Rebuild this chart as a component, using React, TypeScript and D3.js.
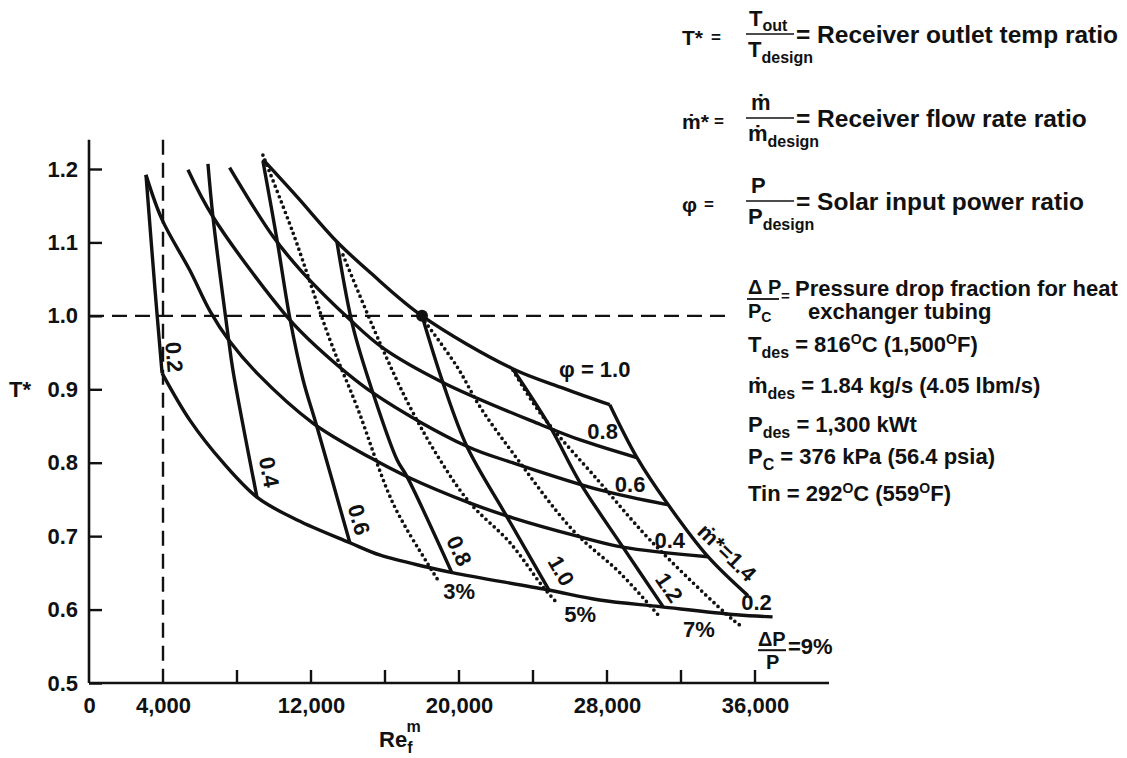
import React, { useEffect, useRef } from "react";
import * as d3 from "d3";

type Pt = [number, number];

// axis ticks
const yTicks = [0.5, 0.6, 0.7, 0.8, 0.9, 1.0, 1.1, 1.2];
const xTickMarks = [8000, 12000, 16000, 20000, 24000, 28000, 32000, 36000];
const xTickLabels = [0, 4000, 12000, 20000, 28000, 36000];

// phi = P / P_design, constant solar input power  [Re_f^m, T*]
const phi02: Pt[] = [[3950, 0.922], [5450, 0.858], [7250, 0.8], [9130, 0.752], [11250, 0.722], [14100, 0.691], [15750, 0.674], [18250, 0.658], [19700, 0.65], [24750, 0.627], [27600, 0.613], [30850, 0.604], [35000, 0.593], [36950, 0.59]];
const phi04: Pt[] = [[3080, 1.192], [3950, 1.131], [5450, 1.062], [6550, 1.006], [7550, 0.967], [9080, 0.922], [12100, 0.854], [15200, 0.807], [17200, 0.781], [20600, 0.745], [22900, 0.725], [26550, 0.699], [28850, 0.685], [33450, 0.672]];
const phi06: Pt[] = [[5350, 1.199], [6700, 1.135], [10700, 0.999], [12300, 0.958], [15350, 0.895], [20450, 0.822], [22900, 0.8], [27600, 0.763], [31250, 0.743]];
const phi08: Pt[] = [[7600, 1.202], [9950, 1.108], [11550, 1.059], [14100, 0.995], [15900, 0.956], [19150, 0.909], [24400, 0.852], [26550, 0.831], [29600, 0.807]];
const phi10: Pt[] = [[9400, 1.213], [11250, 1.162], [13400, 1.101], [15200, 1.059], [18000, 1.0], [22900, 0.928], [25700, 0.901], [28150, 0.879]];

// m* = mdot / mdot_design, constant flow rate
const m02: Pt[] = [[3080, 1.192], [3570, 1.035], [3950, 0.922]];
const m04: Pt[] = [[6430, 1.207], [6700, 1.135], [7550, 0.967], [7780, 0.926], [9080, 0.753]];
const m06: Pt[] = [[9400, 1.211], [10160, 1.104], [10870, 0.995], [11570, 0.913], [12320, 0.849], [14100, 0.691]];
const m08: Pt[] = [[13400, 1.101], [14270, 0.985], [15350, 0.895], [16650, 0.804], [17190, 0.781], [19620, 0.65]];
const m10: Pt[] = [[18000, 1.0], [19130, 0.909], [20430, 0.822], [22600, 0.726], [24920, 0.624]];
const m12: Pt[] = [[22900, 0.928], [24920, 0.849], [26540, 0.773], [28860, 0.685], [31030, 0.604]];
const m14: Pt[] = [[28150, 0.879], [29620, 0.807], [31300, 0.743], [33460, 0.672], [35620, 0.619]];

// dP/P, tubing pressure drop (dotted)
const dp3: Pt[] = [[9400, 1.219], [11030, 1.113], [13030, 0.967], [14490, 0.876], [16430, 0.745], [18270, 0.664], [18870, 0.64]];
const dp5: Pt[] = [[13730, 1.083], [15730, 0.963], [17350, 0.876], [18970, 0.804], [20600, 0.745], [22760, 0.691], [24540, 0.631], [25300, 0.609]];
const dp7: Pt[] = [[18160, 0.992], [19890, 0.931], [21140, 0.876], [22920, 0.813], [26160, 0.708], [28700, 0.65], [30860, 0.59]];
const dp9: Pt[] = [[22920, 0.926], [24380, 0.868], [27620, 0.773], [30320, 0.695], [34810, 0.586], [35350, 0.576]];

const phiCurves = [phi02, phi04, phi06, phi08, phi10];
const phiNames = ["0.2", "0.4", "0.6", "0.8", "\u03c6 = 1.0"];
const mCurves = [m02, m04, m06, m08, m10, m12, m14];
const mNames = ["0.2", "0.4", "0.6", "0.8", "1.0", "1.2", "\u1e41*=1.4"];
const dpCurves = [dp3, dp5, dp7, dp9];
const dpNames = ["3%", "5%", "7%"];

const designPoint: Pt = [18000, 1.0];
const refRe = 4000;
const refT = 1.0;

const FONT = "'Liberation Sans', Arial, Helvetica, sans-serif";
const INK = "#111";

// label offsets in px from the low end of each curve
const phiLabelOff = [[-16, -14], [-38, -16], [-37, -20], [-34, -26], [-15, -35]];
const mLabelOff = [[12, -16], [12, -25], [9, -23], [7, -22], [11, -21], [6, -19], [-21, -43]];
const dpLabelOff = [[21, 11], [23, 12], [39, 13]];

export default function App() {
  const gRef = useRef<SVGGElement>(null);

  useEffect(() => {
    const g = d3.select(gRef.current);
    g.selectAll("*").remove();

    const x = d3.scaleLinear().domain([0, 36000]).range([89, 755]);
    const y = d3.scaleLinear().domain([0.5, 1.2]).range([683, 169]);

    const line = d3.line<Pt>()
      .x(d => x(d[0]))
      .y(d => y(d[1]))
      .curve(d3.curveCatmullRom.alpha(0.5));

    // axes
    g.append("line")
      .attr("x1", x(0)).attr("x2", x(0))
      .attr("y1", y(0.5)).attr("y2", y(1.24))
      .attr("stroke", INK).attr("stroke-width", 2.6);
    g.append("line")
      .attr("x1", x(0)).attr("x2", x(40000))
      .attr("y1", y(0.5)).attr("y2", y(0.5))
      .attr("stroke", INK).attr("stroke-width", 2.6);

    const yAxis = g.append("g")
      .attr("transform", `translate(${x(0)},0)`)
      .call(d3.axisLeft(y).tickValues(yTicks).tickSizeInner(-13).tickSizeOuter(0).tickPadding(11).tickFormat(d3.format(".1f")));
    yAxis.select(".domain").remove();
    yAxis.selectAll("line").attr("stroke", INK).attr("stroke-width", 2.4);

    const xAxis = g.append("g")
      .attr("transform", `translate(0,${y(0.5)})`)
      .call(d3.axisBottom(x).tickValues(xTickLabels).tickSize(0).tickPadding(14).tickFormat(d3.format(",")));
    xAxis.select(".domain").remove();

    g.selectAll(".xtick")
      .data(xTickMarks)
      .join("line")
      .attr("x1", d => x(d)).attr("x2", d => x(d))
      .attr("y1", y(0.5)).attr("y2", y(0.5) - 13)
      .attr("stroke", INK).attr("stroke-width", 2.4);

    [yAxis, xAxis].forEach(a => a
      .attr("font-family", FONT)
      .attr("font-size", 22)
      .attr("font-weight", "bold")
      .selectAll("text").attr("fill", INK));

    // reference dashed lines
    g.append("line")
      .attr("x1", x(refRe)).attr("x2", x(refRe))
      .attr("y1", y(1.24)).attr("y2", y(0.5))
      .attr("stroke", INK).attr("stroke-width", 2.4)
      .attr("stroke-dasharray", "15 8");
    g.append("line")
      .attr("x1", x(0)).attr("x2", x(34700))
      .attr("y1", y(refT)).attr("y2", y(refT))
      .attr("stroke", INK).attr("stroke-width", 2.4)
      .attr("stroke-dasharray", "15 8");

    // dotted pressure-drop curves
    g.selectAll(".dp")
      .data(dpCurves)
      .join("path")
      .attr("d", d => line(d))
      .attr("fill", "none")
      .attr("stroke", INK)
      .attr("stroke-width", 3.7)
      .attr("stroke-linecap", "round")
      .attr("stroke-dasharray", "0 5.6");

    // solid grid of phi and m* curves
    g.selectAll(".solid")
      .data([...phiCurves, ...mCurves])
      .join("path")
      .attr("d", d => line(d))
      .attr("fill", "none")
      .attr("stroke", INK)
      .attr("stroke-width", 3.4)
      .attr("stroke-linejoin", "round");

    g.append("circle")
      .attr("cx", x(designPoint[0])).attr("cy", y(designPoint[1]))
      .attr("r", 6).attr("fill", INK);

    const lbl = g.append("g")
      .attr("font-family", FONT)
      .attr("font-size", 22)
      .attr("font-weight", "bold")
      .attr("fill", INK);

    // phi labels at right ends
    phiCurves.forEach((c, i) => {
      const e = c[c.length - 1];
      lbl.append("text")
        .attr("x", x(e[0]) + phiLabelOff[i][0])
        .attr("y", y(e[1]) + phiLabelOff[i][1])
        .attr("text-anchor", "middle")
        .attr("dominant-baseline", "central")
        .text(phiNames[i]);
    });

    // m* labels, rotated along each line
    mCurves.forEach((c, i) => {
      const e = c[c.length - 1];
      const p = c[c.length - 2];
      const ang = Math.atan2(y(e[1]) - y(p[1]), x(e[0]) - x(p[0])) * 180 / Math.PI;
      const cx = x(e[0]) + mLabelOff[i][0];
      const cy = y(e[1]) + mLabelOff[i][1];
      lbl.append("text")
        .attr("transform", `translate(${cx},${cy}) rotate(${ang})`)
        .attr("text-anchor", "middle")
        .attr("dominant-baseline", "central")
        .text(mNames[i]);
    });

    // dP/P labels
    dpNames.forEach((n, i) => {
      const c = dpCurves[i];
      const e = c[c.length - 1];
      lbl.append("text")
        .attr("x", x(e[0]) + dpLabelOff[i][0])
        .attr("y", y(e[1]) + dpLabelOff[i][1])
        .attr("text-anchor", "middle")
        .attr("dominant-baseline", "central")
        .text(n);
    });

    const e9 = dp9[dp9.length - 1];
    const ex = x(e9[0]), ey = y(e9[1]);
    lbl.append("text").attr("x", ex + 15).attr("y", ey + 19).attr("font-size", 20).text("\u0394P");
    lbl.append("line")
      .attr("x1", ex + 15).attr("x2", ex + 43)
      .attr("y1", ey + 23).attr("y2", ey + 23)
      .attr("stroke", INK).attr("stroke-width", 2);
    lbl.append("text").attr("x", ex + 23).attr("y", ey + 42).attr("font-size", 20).text("P");
    lbl.append("text").attr("x", ex + 45).attr("y", ey + 27).text("=9%");

    // axis titles
    lbl.append("text").attr("x", 9).attr("y", y(0.9) + 8).text("T*");
    const re = lbl.append("text").attr("x", 379).attr("y", 747);
    re.append("tspan").text("Re");
    re.append("tspan").attr("dy", 6).attr("font-size", 16).text("f");
    re.append("tspan").attr("dx", -6).attr("dy", -21).attr("font-size", 16).text("m");
  }, []);

  const sub = 16;
  const big = 24.5;
  const rows = [37, 121, 204];

  return (
    <svg width={1127} height={758} style={{ position: "absolute", left: 0, top: 0, background: "#fff" }}
      fontFamily={FONT} fontWeight="bold" fill={INK}>
      <g ref={gRef} />
      <g fontSize={22}>
        {/* T* */}
        <text x={682} y={rows[0] + 8} fontSize={21}>T*</text>
        <text x={711} y={rows[0] + 6} fontSize={17}>=</text>
        <text x={749} y={rows[0] - 11}>T<tspan dy={5} fontSize={sub}>out</tspan></text>
        <line x1={746} x2={794} y1={rows[0] - 3} y2={rows[0] - 3} stroke={INK} strokeWidth={1.6} />
        <text x={796} y={rows[0] + 6} fontSize={big}>= Receiver outlet temp ratio</text>
        <text x={748} y={rows[0] + 20}>T<tspan dy={6} fontSize={sub}>design</tspan></text>
        {/* m* */}
        <text x={682} y={rows[1] + 8} fontSize={21}>{"\u1e41*"}</text>
        <text x={714} y={rows[1] + 6} fontSize={17}>=</text>
        <text x={751} y={rows[1] - 11}>{"\u1e41"}</text>
        <line x1={746} x2={794} y1={rows[1] - 3} y2={rows[1] - 3} stroke={INK} strokeWidth={1.6} />
        <text x={796} y={rows[1] + 6} fontSize={big}>= Receiver flow rate ratio</text>
        <text x={748} y={rows[1] + 20}>{"\u1e41"}<tspan dy={6} fontSize={sub}>design</tspan></text>
        {/* phi */}
        <text x={682} y={rows[2] + 8} fontSize={21}>{"\u03c6"}</text>
        <text x={704} y={rows[2] + 6} fontSize={17}>=</text>
        <text x={751} y={rows[2] - 11}>P</text>
        <line x1={746} x2={794} y1={rows[2] - 3} y2={rows[2] - 3} stroke={INK} strokeWidth={1.6} />
        <text x={796} y={rows[2] + 6} fontSize={big}>= Solar input power ratio</text>
        <text x={748} y={rows[2] + 20}>P<tspan dy={6} fontSize={sub}>design</tspan></text>
        {/* dP/Pc */}
        <text x={748} y={294} fontSize={20}>{"\u0394 P"}</text>
        <line x1={747} x2={779} y1={299} y2={299} stroke={INK} strokeWidth={1.8} />
        <text x={748} y={318} fontSize={20}>P<tspan dy={4} fontSize={14}>C</tspan></text>
        <text x={781} y={301} fontSize={15}>=</text>
        <text x={795} y={296}>Pressure drop fraction for heat</text>
        <text x={808} y={319}>exchanger tubing</text>
        {/* design values */}
        <text x={748} y={352}>T<tspan dy={6} fontSize={sub}>des</tspan><tspan dy={-6}> = 816</tspan><tspan dy={-8} fontSize={14}>O</tspan><tspan dy={8}>C (1,500</tspan><tspan dy={-8} fontSize={14}>O</tspan><tspan dy={8}>F)</tspan></text>
        <text x={748} y={393}>{"\u1e41"}<tspan dy={6} fontSize={sub}>des</tspan><tspan dy={-6}> = 1.84 kg/s (4.05 lbm/s)</tspan></text>
        <text x={748} y={432}>P<tspan dy={6} fontSize={sub}>des</tspan><tspan dy={-6}> = 1,300 kWt</tspan></text>
        <text x={748} y={464}>P<tspan dy={6} fontSize={sub}>C</tspan><tspan dy={-6}> = 376 kPa (56.4 psia)</tspan></text>
        <text x={748} y={501}>Tin = 292<tspan dy={-8} fontSize={14}>O</tspan><tspan dy={8}>C (559</tspan><tspan dy={-8} fontSize={14}>O</tspan><tspan dy={8}>F)</tspan></text>
      </g>
    </svg>
  );
}
